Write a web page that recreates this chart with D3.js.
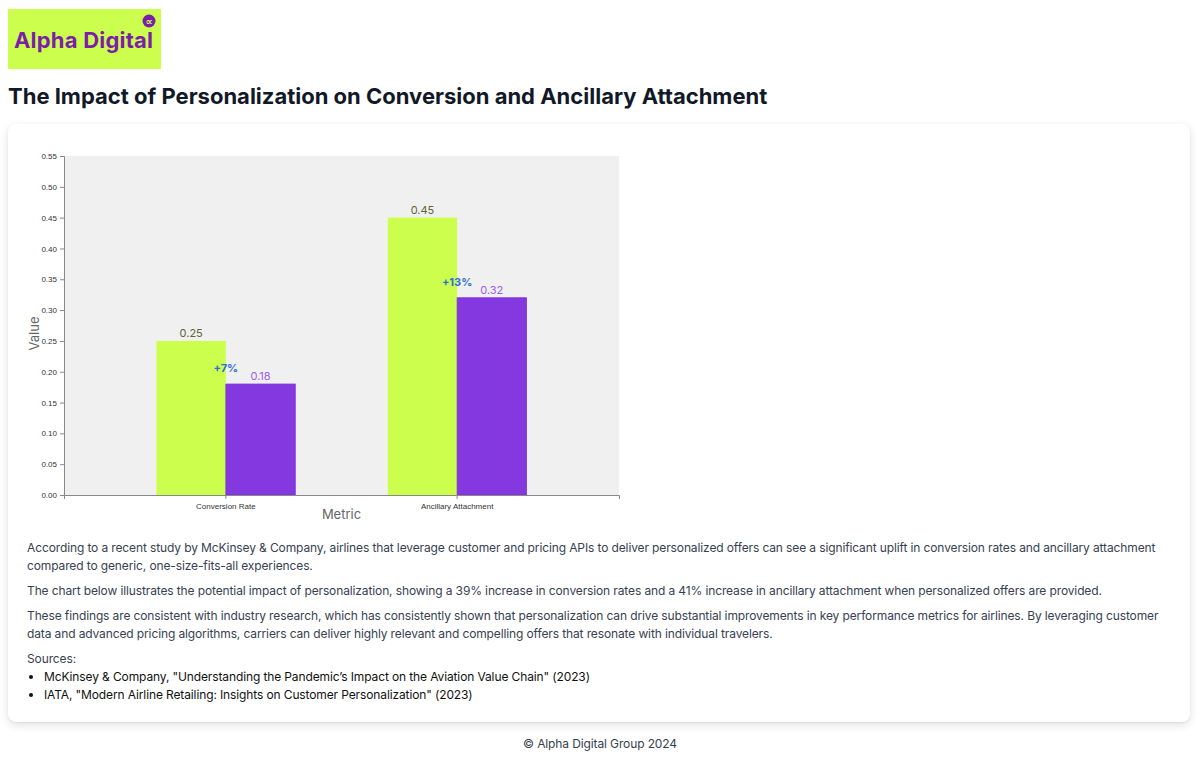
<!DOCTYPE html>
<html>
<head>
<meta charset="utf-8">
<script src="https://cdn.jsdelivr.net/npm/d3@7"></script>
<style>
  html, body { margin: 0; padding: 0; background: #ffffff; }
  body { width: 1200px; height: 758px; position: relative; font-family: Inter, "Noto Sans", sans-serif; color: #374151; overflow: hidden; }
  #logo { position: absolute; left: 8px; top: 9px; width: 153px; height: 60px; }
  h1 { position: absolute; left: 8px; top: 83px; margin: 0; font-size: 22px; font-weight: 700; color: #111827; letter-spacing: 0px; white-space: nowrap; }
  #card { position: absolute; left: 8px; top: 124px; width: 1182px; height: 598px; background: #fff; border-radius: 8px; box-shadow: 0 3px 10px rgba(0,0,0,0.12), 0 1px 2px rgba(0,0,0,0.06); }
  #chart { position: absolute; left: 0; top: 0; }
  #text { position: absolute; left: 19px; top: 415px; width: 1150px; font-size: 12px; letter-spacing: -0.12px; line-height: 18px; color: #374151; }
  #text p { margin: 0 0 7px 0; }
  #text p.src { margin: 0; }
  #text ul { margin: 0; padding-left: 17px; list-style: disc; color: #111; }
  #text li { line-height: 18px; }
  #footer { position: absolute; left: 0; width: 1200px; top: 736px; text-align: center; font-size: 12px; letter-spacing: -0.12px; color: #374151; }
</style>
</head>
<body>
<svg id="logo" width="153" height="60"></svg>
<h1>The Impact of Personalization on Conversion and Ancillary Attachment</h1>
<div id="card">
  <svg id="chart" width="640" height="405"></svg>
  <div id="text">
    <p>According to a recent study by McKinsey &amp; Company, airlines that leverage customer and pricing APIs to deliver personalized offers can see a significant uplift in conversion rates and ancillary attachment compared to generic, one-size-fits-all experiences.</p>
    <p>The chart below illustrates the potential impact of personalization, showing a 39% increase in conversion rates and a 41% increase in ancillary attachment when personalized offers are provided.</p>
    <p>These findings are consistent with industry research, which has consistently shown that personalization can drive substantial improvements in key performance metrics for airlines. By leveraging customer data and advanced pricing algorithms, carriers can deliver highly relevant and compelling offers that resonate with individual travelers.</p>
    <p class="src">Sources:</p>
    <ul>
      <li>McKinsey &amp; Company, "Understanding the Pandemic’s Impact on the Aviation Value Chain" (2023)</li>
      <li>IATA, "Modern Airline Retailing: Insights on Customer Personalization" (2023)</li>
    </ul>
  </div>
</div>
<div id="footer">© Alpha Digital Group 2024</div>
<script>
// ---- data ----
const categories = ["Conversion Rate", "Ancillary Attachment"];
const baselineValues = [0.25, 0.45];
const personalizedValues = [0.18, 0.32];
const upliftLabels = ["+7%", "+13%"];
const yTicks = [0, 0.05, 0.10, 0.15, 0.20, 0.25, 0.30, 0.35, 0.40, 0.45, 0.50, 0.55];
const seriesKeys = ["baseline", "personalized"];

// ---- logo ----
const logo = d3.select("#logo");
logo.append("rect").attr("width", 153).attr("height", 60).attr("fill", "#ccff4d");
logo.append("text").attr("x", 6).attr("y", 39)
  .attr("font-family", "Inter, sans-serif").attr("font-weight", 700).attr("font-size", 22)
  .attr("letter-spacing", 0.2).attr("fill", "#7b1fa8").text("Alpha Digital");
logo.append("circle").attr("cx", 141).attr("cy", 12).attr("r", 6.5).attr("fill", "#7b1fa8");
logo.append("text").attr("x", 141).attr("y", 15.5).attr("text-anchor", "middle")
  .attr("font-family", "DejaVu Sans, sans-serif").attr("font-weight", 700).attr("font-size", 10)
  .attr("fill", "#ccff4d").text("∝");

// ---- chart ----
const svg = d3.select("#chart");
const margin = { left: 56, top: 32 };
const plotW = 555, plotH = 339;
const g = svg.append("g").attr("transform", `translate(${margin.left},${margin.top})`);

const x = d3.scaleBand().domain(categories).range([0, plotW]).paddingInner(0.4).paddingOuter(0.4);
const xSub = d3.scaleBand().domain(seriesKeys).range([0, x.bandwidth()]).padding(0);
const y = d3.scaleLinear().domain([0, 0.55]).range([plotH, 0]);

g.append("rect").attr("width", plotW).attr("height", plotH).attr("fill", "#f0f0f0");

const colors = { baseline: "#ccff4d", personalized: "#8438e0" };
const labelColors = { baseline: "#5f6238", personalized: "#9d5cf0" };

const rows = categories.map((c, i) => ({ c, baseline: baselineValues[i], personalized: personalizedValues[i], uplift: upliftLabels[i] }));

const grp = g.selectAll("g.cat").data(rows).join("g").attr("class", "cat")
  .attr("transform", d => `translate(${x(d.c)},0)`);

grp.selectAll("rect").data(d => seriesKeys.map(k => ({ k, v: d[k] }))).join("rect")
  .attr("x", d => xSub(d.k)).attr("width", xSub.bandwidth())
  .attr("y", d => y(d.v)).attr("height", d => plotH - y(d.v))
  .attr("fill", d => colors[d.k])
  .attr("stroke", d => d.k === "personalized" ? "#7a30d8" : "none").attr("stroke-width", 0.8);

grp.selectAll("text.val").data(d => seriesKeys.map(k => ({ k, v: d[k] }))).join("text").attr("class", "val")
  .attr("x", d => xSub(d.k) + xSub.bandwidth() / 2).attr("y", d => y(d.v) - 4)
  .attr("text-anchor", "middle").attr("font-family", "Inter, sans-serif").attr("font-size", 11)
  .attr("fill", d => labelColors[d.k]).text(d => d.v.toFixed(2));

grp.append("text")
  .attr("x", x.bandwidth() / 2).attr("y", d => y(d.personalized) - 12)
  .attr("text-anchor", "middle").attr("font-family", "Inter, sans-serif").attr("font-size", 11)
  .attr("font-weight", 700).attr("fill", "#2f6fd0").text(d => d.uplift);

const axisFont = "Liberation Sans, Arial, sans-serif";
const yAxis = g.append("g").call(d3.axisLeft(y).tickValues(yTicks).tickFormat(d3.format(".2f")).tickSize(4).tickSizeOuter(4));
const xAxis = g.append("g").attr("transform", `translate(0,${plotH})`).call(d3.axisBottom(x).tickSize(4).tickSizeOuter(4));
[yAxis, xAxis].forEach(a => {
  a.selectAll("path.domain").attr("stroke", "#888");
  a.selectAll(".tick line").attr("stroke", "#888");
  a.selectAll(".tick text").attr("font-family", axisFont).attr("font-size", 8).attr("fill", "#333");
});
xAxis.selectAll(".tick text").attr("dy", "0.9em");

g.append("text").attr("transform", `translate(-25,${plotH / 2 + 8}) rotate(-90)`)
  .attr("text-anchor", "middle").attr("font-family", "Inter, sans-serif").attr("font-size", 13)
  .attr("fill", "#666").text("Value");
g.append("text").attr("x", plotW / 2).attr("y", plotH + 24)
  .attr("text-anchor", "middle").attr("font-family", "Inter, sans-serif").attr("font-size", 13)
  .attr("fill", "#666").text("Metric");
</script>
</body>
</html>
